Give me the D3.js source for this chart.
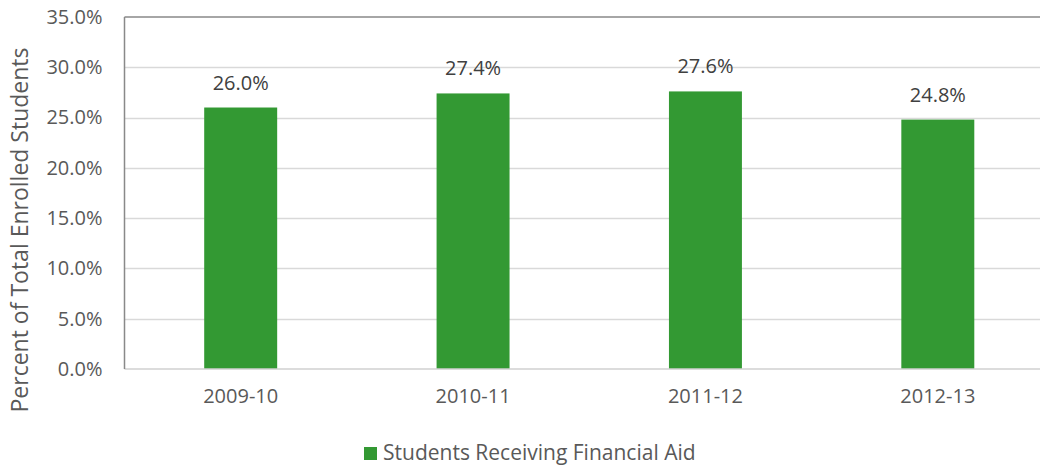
<!DOCTYPE html>
<html>
<head>
<meta charset="utf-8">
<script src="https://cdn.jsdelivr.net/npm/d3@7"></script>
<style>
  html, body { margin: 0; padding: 0; background: #fff; }
  svg { display: block; font-family: "Open Sans", "Noto Sans", sans-serif; }
</style>
</head>
<body>
<svg id="chart" width="1040" height="468"></svg>
<script>
// Share of enrolled students receiving financial aid, by academic year
const years = ["2009-10", "2010-11", "2011-12", "2012-13"];
const aidShare = [26.0, 27.4, 27.6, 24.8];
const yTicks = [0, 5, 10, 15, 20, 25, 30, 35];
const seriesName = "Students Receiving Financial Aid";
const yTitle = "Percent of Total Enrolled Students";

const svg = d3.select("#chart");
const plot = { left: 124.5, right: 1054, top: 17, bottom: 369 };

const x = d3.scaleBand()
  .domain(years)
  .range([plot.left, plot.right])
  .paddingInner(0.686)
  .paddingOuter(0.343);

const y = d3.scaleLinear().domain([0, 35]).range([plot.bottom, plot.top]);

// horizontal gridlines
svg.append("g")
  .selectAll("line")
  .data(yTicks.filter(t => t > 0 && t < 35))
  .join("line")
  .attr("x1", plot.left).attr("x2", plot.right)
  .attr("y1", d => Math.round(y(d)) + 0.5).attr("y2", d => Math.round(y(d)) + 0.5)
  .attr("stroke", "#d9d9d9").attr("stroke-width", 1.5);

// bars
svg.append("g")
  .selectAll("rect")
  .data(aidShare)
  .join("rect")
  .attr("x", (d, i) => x(years[i]))
  .attr("width", x.bandwidth())
  .attr("y", d => y(d))
  .attr("height", d => y(0) - y(d))
  .attr("fill", "#339933");

// top border and bottom axis line
svg.append("line")
  .attr("x1", plot.left).attr("x2", plot.right)
  .attr("y1", plot.top).attr("y2", plot.top)
  .attr("stroke", "#898989").attr("stroke-width", 1.5);
svg.append("line")
  .attr("x1", plot.left).attr("x2", plot.right)
  .attr("y1", plot.bottom).attr("y2", plot.bottom)
  .attr("stroke", "#d0d0d0").attr("stroke-width", 1.5);

// left axis line
svg.append("line")
  .attr("x1", plot.left).attr("x2", plot.left)
  .attr("y1", plot.top).attr("y2", plot.bottom)
  .attr("stroke", "#898989").attr("stroke-width", 1.5);

// y tick labels
const yAxis = d3.axisLeft(y).tickValues(yTicks)
  .tickFormat(d => d.toFixed(1) + "%").tickSize(0).tickPadding(22);
const gy = svg.append("g").attr("transform", `translate(${plot.left},0)`).call(yAxis);
gy.select(".domain").remove();
gy.selectAll("text")
  .attr("fill", "#595959").style("font-size", "20px")
  .style("font-family", "\"Open Sans\", sans-serif");

// x tick labels
const xAxis = d3.axisBottom(x).tickSize(0).tickPadding(20);
const gx = svg.append("g").attr("transform", `translate(0,${plot.bottom})`).call(xAxis);
gx.select(".domain").remove();
gx.selectAll("text")
  .attr("fill", "#595959").style("font-size", "20px")
  .style("font-family", "\"Open Sans\", sans-serif");

// value labels above bars
svg.append("g")
  .selectAll("text")
  .data(aidShare)
  .join("text")
  .attr("x", (d, i) => x(years[i]) + x.bandwidth() / 2)
  .attr("y", d => y(d) - 18)
  .attr("text-anchor", "middle")
  .attr("fill", "#404040")
  .style("font-size", "20px")
  .text(d => d.toFixed(1) + "%");

// y axis title
svg.append("text")
  .attr("transform", "translate(28,230) rotate(-90)")
  .attr("text-anchor", "middle")
  .attr("fill", "#595959")
  .style("font-size", "23px")
  .text(yTitle);

// legend
const legend = svg.append("g").attr("transform", "translate(364,447)");
legend.append("rect").attr("width", 13).attr("height", 13).attr("fill", "#339933");
legend.append("text")
  .attr("x", 19).attr("y", 13)
  .attr("fill", "#595959")
  .style("font-size", "21px")
  .text(seriesName);
</script>
</body>
</html>
